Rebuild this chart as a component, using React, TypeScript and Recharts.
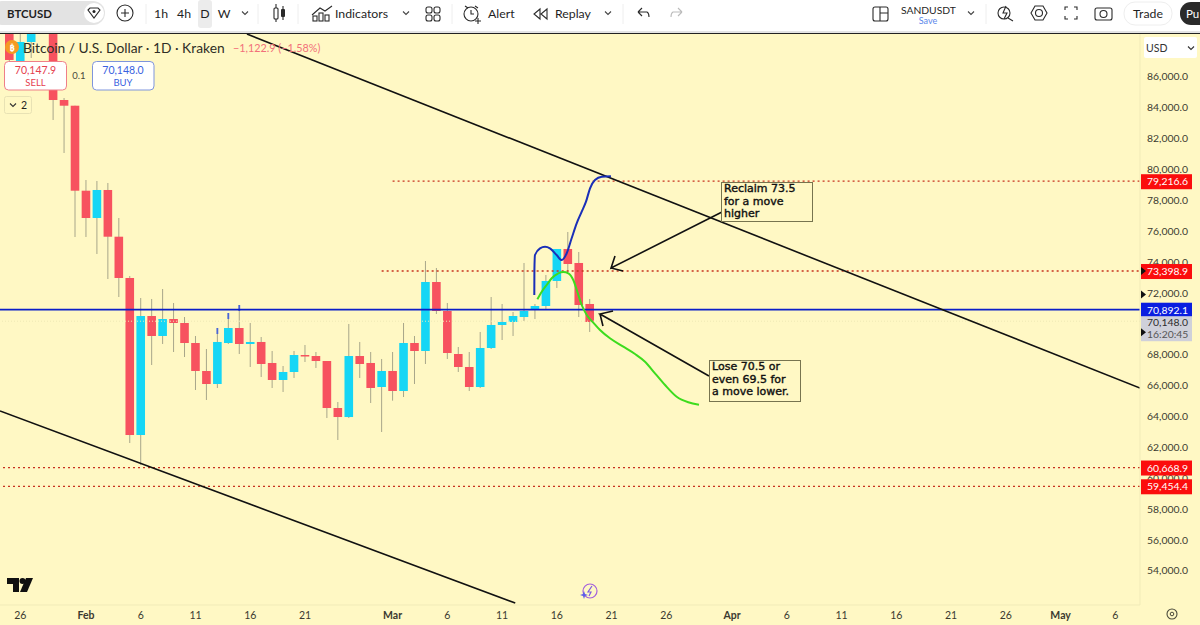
import React from "react";
import { ComposedChart, Bar, Line, XAxis, YAxis, ReferenceLine } from "recharts";

const dayIdx = [-7,-6,-5,-3,-2,-1,0,1,2,3,4,5,6,7,8,9,10,11,12,13,14,15,16,17,18,19,20,21,22,23,24,25,26,27,28,29,30,31,32,33,34,35,36,37,38,39,40,41,42,43,44,45,46];
const opens = [88750,86940,88235,88750,84477,84108,78602,76833,78648,75622,72947,62776,70485,69190,70291,70032,68736,66923,66080,68736,69708,68672,68802,67441,66340,66858,67958,67893,67570,64525,63941,67893,67441,65886,66923,65627,68736,68218,72688,70809,68023,67182,65886,68412,69903,70097,70420,70874,71133,72753,74826,73919,71263];
const highs = [88750,88750,88750,88750,84607,84108,79295,79231,79101,76833,73076,71651,71587,72234,71327,70420,69190,68347,69708,70680,71198,70032,69124,68218,67246,68218,68607,68153,67570,64914,69967,68802,68153,67700,68153,70032,69190,74048,73595,71327,68477,68153,69449,71716,71263,70745,73919,71263,73141,74826,75927,74631,71587];
const lows = [86500,86420,87200,83182,81044,75603,75603,74502,72882,71716,62258,60833,67311,68672,68153,67829,65692,65044,65822,68672,68023,67182,66534,65822,65562,66469,67505,67117,63876,62453,63876,66469,64849,62971,65000,65238,66080,67376,70614,67700,66858,65627,65820,68347,68930,69190,70161,70291,70874,72299,73336,70420,69449];
const closes = [87070,88235,88750,84477,84108,78602,76833,78648,75622,72947,62776,70485,69190,70291,70032,68736,66923,66080,68802,69708,68672,68802,67376,66340,66858,67958,67893,67570,64525,63941,67893,67376,65822,66923,65627,68736,68218,72688,70809,68088,67182,65886,68412,69903,70097,70485,70809,71133,72753,74826,73854,71198,70097];
const blueWickDays = [12, 13, 14];

const rows = dayIdx.map((d, i) => ({ d, o: opens[i], h: highs[i], l: lows[i], c: closes[i] }));

const upperChannel = [{ d: 14.7, p: 88753 }, { d: 96.25, p: 65821 }];
const lowerChannel = [{ d: -7.85, p: 64331 }, { d: 39.2, p: 51892 }];
const arrowUp = [{ d: 58.08, p: 77223 }, { d: 47.95, p: 73595 }, { d: 48.31, p: 74372 }, { d: 47.95, p: 73595 }, { d: 49.04, p: 73400 }];
const arrowDown = [{ d: 56.89, p: 66599 }, { d: 46.94, p: 70615 }, { d: 48.13, p: 70809 }, { d: 46.94, p: 70615 }, { d: 47.21, p: 69838 }];
const bluePath = [[40.94,71846],[40.95,73465],[41.0,74437],[41.46,74871],[41.92,74975],[42.37,74871],[42.98,74437],[43.44,74113],[43.9,74548],[44.35,75519],[44.81,76491],[45.27,77242],[45.66,77890],[46.03,78758],[46.48,79296],[47.1,79509],[47.94,79535]].map(([d, p]) => ({ d, p }));
const greenPath = [[41.22,71567],[41.62,72059],[42.07,72494],[42.53,72928],[43.13,73252],[43.59,73336],[44.05,73252],[44.5,72818],[44.87,72059],[45.27,71198],[45.73,70550],[46.33,70051],[46.94,69578],[47.85,69041],[49.07,68497],[50.14,68024],[51.05,67525],[51.96,66773],[52.88,66015],[53.94,65257],[55,64895],[55.98,64739]].map(([d, p]) => ({ d, p }));

const priceTicks = [54000,56000,58000,60000,62000,64000,66000,68000,70000,72000,74000,76000,78000,80000,82000,84000,86000];
const levelTop = 79216.6, levelMid = 73398.9, levelLow1 = 60668.9, levelLow2 = 59454.4, levelBlue = 70892.1, lastPrice = 70148;
const badgePrices = [levelTop, levelMid, levelLow1, levelLow2, levelBlue, lastPrice];
const dateTickDays = [-6,0,5,10,15,20,28,33,38,43,48,53,59,64,69,74,79,84,89,94];
const dateTickLabels = ["26","Feb","6","11","16","21","Mar","6","11","16","21","26","Apr","6","11","16","21","26","May","6"];
const boldDates = ["Feb","Mar","Apr","May"];

const UI = "Lato, 'Noto Sans', sans-serif";
const NOTE = "'DejaVu Sans', sans-serif";
const AXIS_X = 1140;
const BODY_W = 8.6;
const RED = "#f7525f", CYAN = "#16d6f5", WICK = "#a8a68a", TXT = "#3b3a30", DOT = "#c8321e";

const fmt = (v: number) => v.toLocaleString("en-US", { minimumFractionDigits: 1, maximumFractionDigits: 1 });

function Candle(props: any) {
  const { x, y, width, height, payload } = props;
  const { d, o, h, l, c } = payload;
  const cx = x + width / 2;
  const span = h - l || 1;
  const yOf = (v: number) => y + ((h - v) / span) * height;
  const top = yOf(Math.max(o, c));
  const bot = yOf(Math.min(o, c));
  return (
    <g>
      <line x1={cx} x2={cx} y1={y} y2={y + height} stroke={WICK} strokeWidth={1} />
      {blueWickDays.includes(d) ? <line x1={cx} x2={cx} y1={y} y2={y + 6} stroke="#4a66d8" strokeWidth={1.8} /> : null}
      <rect x={cx - BODY_W / 2} y={top} width={BODY_W} height={Math.max(bot - top, 1.5)} fill={c >= o ? CYAN : RED} />
    </g>
  );
}

function PriceTick(props: any) {
  const { y, payload } = props;
  const v = payload.value;
  const tri = (yy: number) => <path d={`M${AXIS_X + 1} ${yy - 4}L${AXIS_X + 6} ${yy}L${AXIS_X + 1} ${yy + 4}Z`} fill="#111" />;
  if (v === lastPrice) {
    return (
      <g fontFamily={UI} fontSize={10.4}>
        <rect x={AXIS_X + 1} y={y - 5} width={51} height={25} fill="#cfd0da" />
        <text x={AXIS_X + 7} y={y + 5} fill="#2c2c2c">{fmt(v)}</text>
        <text x={AXIS_X + 7} y={y + 17} fill="#555">16:20:45</text>
        {tri(y + 11)}
      </g>
    );
  }
  if (badgePrices.includes(v)) {
    const fill = v === levelBlue ? "#0a1ee0" : "#fb0d0d";
    return (
      <g fontFamily={UI} fontSize={10.4}>
        <rect x={AXIS_X + 1} y={y - 7} width={51} height={15} fill={fill} />
        <text x={AXIS_X + 7} y={y + 4} fill="#fff">{fmt(v)}</text>
        {v === levelMid ? tri(y) : null}
      </g>
    );
  }
  return (
    <g fontFamily={UI} fontSize={10.4}>
      <text x={AXIS_X + 7} y={y + 4} fill={TXT}>{fmt(v)}</text>
      {v === 72000 ? tri(y + 2) : null}
    </g>
  );
}

function DateTick(props: any) {
  const { x, payload } = props;
  const label = dateTickLabels[dateTickDays.indexOf(payload.value)];
  const bold = boldDates.includes(label);
  return (
    <text x={x} y={619} textAnchor="middle" fontFamily={UI} fontSize={10.5} fontWeight={bold ? 700 : 400} fill={TXT}>{label}</text>
  );
}

function TB({ x, y, children, size = 12.3, fill = "#1f1f1f", anchor = "start", weight = 400 }: any) {
  return <text x={x} y={y} fontFamily={UI} fontSize={size} fill={fill} textAnchor={anchor} fontWeight={weight}>{children}</text>;
}

const Chev = ({ x, y, s = "#444" }: any) => <path d={`M${x - 3} ${y - 1.5}L${x} ${y + 1.5}L${x + 3} ${y - 1.5}`} fill="none" stroke={s} strokeWidth={1.1} />;

function Chrome() {
  const ic = { fill: "none", stroke: "#2a2a2a", strokeWidth: 1.1 };
  return (
    <svg width={1200} height={625} style={{ position: "absolute", left: 0, top: 0, pointerEvents: "none" }}>
      <rect x={0} y={0} width={1200} height={31} fill="#fff" />
      <rect x={0} y={31} width={1200} height={2} fill="#e4e4e4" />
      <rect x={0} y={33} width={1200} height={1} fill="#222" />
      <rect x={-10} y={1} width={115} height={24} rx={12} fill="#e3e3e3" />
      <circle cx={94} cy={13} r={10} fill="#fff" />
      <path d="M88 10L90 8H98L100 10L94 18Z" {...ic} />
      <circle cx={94} cy={11.5} r={1.5} fill="#222" />
      <TB x={7} y={18} size={11.4} weight={700}>BTCUSD</TB>
      <circle cx={125} cy={13} r={8} {...ic} />
      <path d="M121 13H129M125 9V17" {...ic} />
      <rect x={198} y={0} width={14} height={28} rx={3} fill="#ececec" />
      <TB x={161} y={18} anchor="middle">1h</TB>
      <TB x={184} y={18} anchor="middle">4h</TB>
      <TB x={205} y={18} anchor="middle">D</TB>
      <TB x={224} y={18} anchor="middle">W</TB>
      <Chev x={245} y={13} />
      <path d="M146 4V24M258 4V24M298 4V24M452 4V24M623 4V24M986 4V24" stroke="#eee" />
      <rect x={274} y={8} width={4} height={11} rx={1} {...ic} />
      <path d="M276 4V8M276 19V22M283 6V9M283 17V20" {...ic} />
      <rect x={281} y={9} width={4} height={8} rx={1} fill="#2a2a2a" />
      <path d="M312 15L320 8L325 11L332 6" {...ic} />
      <rect x={313} y={16} width={4} height={5} {...ic} /><rect x={319} y={13} width={4} height={8} {...ic} /><rect x={325} y={15} width={4} height={6} {...ic} />
      <TB x={335} y={18}>Indicators</TB>
      <Chev x={406} y={13} />
      <rect x={426} y={7} width={6} height={6} rx={2} {...ic} /><rect x={434} y={7} width={6} height={6} rx={2} {...ic} />
      <rect x={426} y={15} width={6} height={6} rx={2} {...ic} /><rect x={434} y={15} width={6} height={6} rx={2} {...ic} />
      <circle cx={471} cy={14} r={7} {...ic} />
      <path d="M471 10V14H474M478 18V24M475 21H481M465 6L468 8M478 8L475 6" {...ic} />
      <TB x={488} y={18}>Alert</TB>
      <path d="M540 9L534 14L540 19ZM547 9L541 14L547 19Z" {...ic} />
      <TB x={555} y={18}>Replay</TB>
      <Chev x={608} y={13} />
      <path d="M638 12L642 8M638 12L642 16M638 12H647Q649 13 649 17" {...ic} />
      <path d="M682 12L678 8M682 12L678 16M682 12H673Q671 13 671 17" fill="none" stroke="#bbb" strokeWidth={1.1} />
      <rect x={873} y={7} width={15} height={14} rx={2} {...ic} />
      <path d="M880 7V21M880 13H888" {...ic} />
      <TB x={901} y={14} size={10.3}>SANDUSDT</TB>
      <TB x={928} y={24} size={9} fill="#5b87ea" anchor="middle">Save</TB>
      <Chev x={971} y={13} />
      <circle cx={1004} cy={13} r={6} {...ic} />
      <path d="M1008 18L1013 21M1006 6L1003 13H1007L1004 19" {...ic} />
      <path d="M1031 13L1035 6H1043L1047 13L1043 20H1035Z" {...ic} />
      <circle cx={1039} cy={13} r={3.5} {...ic} />
      <path d="M1065 10V7H1068M1074 7H1077V10M1077 16V19H1074M1068 19H1065V16" {...ic} />
      <rect x={1095} y={8} width={17} height={12} rx={2} {...ic} />
      <circle cx={1103.5} cy={14} r={3.5} {...ic} />
      <rect x={1124} y={2} width={48} height={23} rx={11} fill="#fff" stroke="#eee" />
      <TB x={1148} y={18} anchor="middle">Trade</TB>
      <rect x={1180} y={2} width={40} height={23} rx={11} fill="#2a2a2a" />
      <TB x={1186} y={18} fill="#fff" size={11.5}>Pu</TB>

      {/* legend */}
      <circle cx={12} cy={47} r={7} fill="#f59a23" />
      <text x={12} y={50.5} fontFamily={UI} fontSize={9} fontWeight={700} fill="#fff" textAnchor="middle">₿</text>
      <TB x={23} y={53} size={13.8} fill="#2f2e26">Bitcoin / U.S. Dollar · 1D · Kraken</TB>
      <TB x={233} y={52} size={10.8} fill="#f2707a">−1,122.9 (−1.58%)</TB>
      <rect x={4.5} y={61.5} width={62} height={28.5} rx={4} fill="#fff" stroke="#ef7f88" />
      <TB x={35.5} y={74} size={10.5} fill="#e5404e" anchor="middle">70,147.9</TB>
      <TB x={35.5} y={86} size={9.5} fill="#e5404e" anchor="middle">SELL</TB>
      <TB x={79} y={79} size={9.5} fill="#4a4a3c" anchor="middle">0.1</TB>
      <rect x={92.5} y={61.5} width={61.5} height={28.5} rx={4} fill="#fff" stroke="#7f95dc" />
      <TB x={123} y={74} size={10.5} fill="#3a62e0" anchor="middle">70,148.0</TB>
      <TB x={123} y={86} size={9.5} fill="#3a62e0" anchor="middle">BUY</TB>
      <rect x={4.5} y={96.5} width={27} height={17} rx={2} fill="#fff8c4" stroke="#e8e2b4" />
      <Chev x={13} y={105} s="#333" />
      <TB x={24} y={109} size={10.5} anchor="middle">2</TB>

      {/* USD selector */}
      <rect x={1144} y={37} width={53} height={21} rx={2} fill="#fff" />
      <TB x={1146} y={52} size={10.5} fill="#333">USD</TB>
      <Chev x={1191} y={48} s="#333" />

      {/* TV logo */}
      <path d="M7 578H19V592H13V584H7Z" fill="#101010" />
      <circle cx={22.5} cy={581} r={3} fill="#101010" />
      <path d="M26 578H33L27 592H20Z" fill="#101010" />
      {/* spark */}
      <circle cx={590} cy={591} r={7} fill="none" stroke="#a45fdc" strokeWidth={1.2} />
      <path d="M592 586L588 592H591L589 596" fill="none" stroke="#7c5be0" strokeWidth={1.2} />
      <path d="M583 594L584 597L587 598L584 599L583 602L582 599L579 598L582 597Z" transform="translate(1 -3)" fill="#5d5be8" />
      {/* gear */}
      <circle cx={1172} cy={614} r={5} fill="none" stroke="#4a4a3c" strokeWidth={1.1} />
      <circle cx={1172} cy={614} r={1.8} fill="none" stroke="#4a4a3c" strokeWidth={1} />
    </svg>
  );
}

const noteBox: React.CSSProperties = {
  position: "absolute", boxSizing: "border-box", background: "#fff8c4", border: "1.5px solid #77744f",
  fontFamily: NOTE, fontSize: 11, lineHeight: "12.6px", color: "#111", padding: "0 0 0 2px",
  WebkitTextStroke: "0.4px #111", whiteSpace: "pre",
};

export default function App() {
  return (
    <div style={{ position: "absolute", left: 0, top: 0, width: 1200, height: 625, overflow: "hidden", background: "#fff8c4" }}>
      <ComposedChart width={1200} height={625} data={rows} margin={{ top: 34, right: 0, bottom: 0, left: 0 }}>
        <XAxis dataKey="d" type="number" domain={[-7.85, 96.25]} allowDataOverflow ticks={dateTickDays} interval={0} height={20}
          tick={<DateTick />} tickLine={false} axisLine={{ stroke: "#f1ebb8" }} />
        <YAxis orientation="right" type="number" domain={[51764, 88753]} allowDataOverflow width={60}
          ticks={[...priceTicks, ...badgePrices]} interval={0} tick={<PriceTick />} tickLine={false} axisLine={{ stroke: "#f1ebb8" }} />
        <ReferenceLine y={lastPrice} stroke="#efe8b4" strokeDasharray="1 2" />
        <Bar dataKey={(r: any) => [r.l, r.h]} barSize={9} shape={<Candle />} isAnimationActive={false} />
        <ReferenceLine y={levelBlue} stroke="#0a1ec8" strokeWidth={1.8} />
        <ReferenceLine segment={[{ x: 28, y: levelTop }, { x: 96.25, y: levelTop }]} stroke={DOT} strokeWidth={1.3} strokeDasharray="2 3" />
        <ReferenceLine segment={[{ x: 27, y: levelMid }, { x: 96.25, y: levelMid }]} stroke={DOT} strokeWidth={1.3} strokeDasharray="2 3" />
        <ReferenceLine y={levelLow1} stroke={DOT} strokeWidth={1.3} strokeDasharray="2 3" />
        <ReferenceLine y={levelLow2} stroke={DOT} strokeWidth={1.3} strokeDasharray="2 3" />
        <Line data={upperChannel} dataKey="p" stroke="#111" strokeWidth={1.6} dot={false} isAnimationActive={false} legendType="none" />
        <Line data={lowerChannel} dataKey="p" stroke="#111" strokeWidth={1.6} dot={false} isAnimationActive={false} legendType="none" />
        <Line data={bluePath} dataKey="p" type="monotone" stroke="#1a2fb8" strokeWidth={2} dot={false} isAnimationActive={false} legendType="none" />
        <Line data={greenPath} dataKey="p" type="monotone" stroke="#3ddc1e" strokeWidth={2} dot={false} isAnimationActive={false} legendType="none" />
        <Line data={arrowUp} dataKey="p" stroke="#111" strokeWidth={1.6} dot={false} isAnimationActive={false} legendType="none" />
        <Line data={arrowDown} dataKey="p" stroke="#111" strokeWidth={1.6} dot={false} isAnimationActive={false} legendType="none" />
      </ComposedChart>
      <Chrome />
      <div style={{ ...noteBox, left: 721, top: 182, width: 92, height: 40 }}>{"Reclaim 73.5\nfor a move\nhigher"}</div>
      <div style={{ ...noteBox, left: 709, top: 360, width: 92, height: 42 }}>{"Lose 70.5 or\neven 69.5 for\na move lower."}</div>
    </div>
  );
}
